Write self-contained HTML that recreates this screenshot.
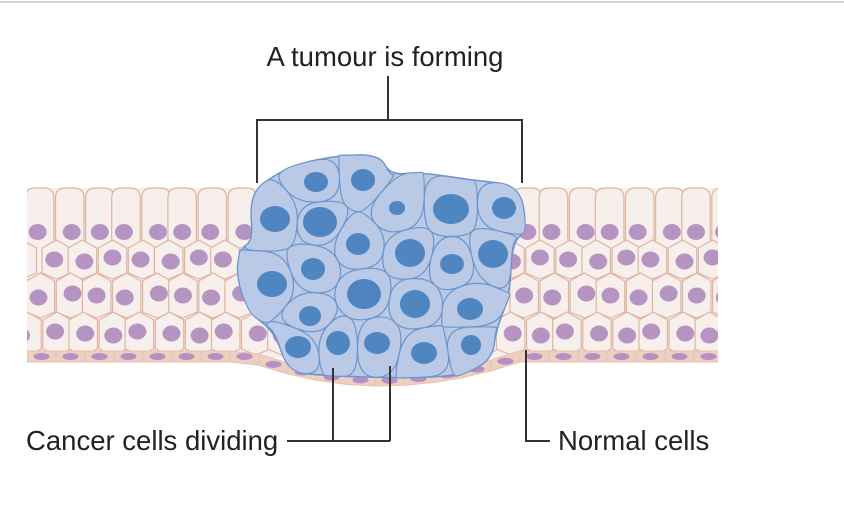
<!DOCTYPE html>
<html><head><meta charset="utf-8"><style>
html,body{margin:0;padding:0;background:#fff;width:844px;height:522px;overflow:hidden}
svg{display:block}
text{font-family:"Liberation Sans",Arial,sans-serif;fill:#222}
</style></head><body>
<svg id="s" width="844" height="522" viewBox="0 0 844 522" xmlns="http://www.w3.org/2000/svg">
<defs><clipPath id="cl"><rect x="27" y="150" width="691" height="260"/></clipPath></defs>
<rect x="0" y="1" width="844" height="2" fill="#d4d4d4"/>
<g id="tissue" clip-path="url(#cl)"></g>
<g id="tumour"></g>
<g stroke="#333" stroke-width="2" fill="none">
<path d="M388 76V120M257 183V120H522V183"/>
<path d="M287 441H390M333 368V441M390 366V441"/>
<path d="M526 350V441H550"/>
</g>
<text x="385" y="66" font-size="27.5" text-anchor="middle">A tumour is forming</text>
<text x="26" y="450" font-size="27.5">Cancer cells dividing</text>
<text x="558" y="450" font-size="27.5">Normal cells</text>
</svg>
<script>
var NS="http://www.w3.org/2000/svg";
function el(p,t,a){var e=document.createElementNS(NS,t);for(var k in a)e.setAttribute(k,a[k]);p.appendChild(e);return e;}
var T=document.getElementById('tissue');
function dip(x){
  if(x<250||x>520)return 0;
  var c=380,w=x<c?130:140;var d=(x-c)/w;return 24*Math.max(0,1-d*d);
}
var fill="#f7efec",st="#dfb5a0",nuc="#b594c1";
el(T,'rect',{x:20,y:188,width:710,height:170,fill:fill});
var rows=[[188,243],[243,276],[276,315],[315,352]];
var W=28.5;
for(var r=0;r<4;r++){
  var off=(r%2)?W/2:0;
  for(var i=-1;i<26;i++){
    var x=27+off+i*W+((i*7+r*3)%5-2)*0.8, y0=rows[r][0], y1=rows[r][1];
    var h=y1-y0;
    if(r==0){
      el(T,'path',{d:'M'+x+' '+(y1)+'V'+(y0+10)+'Q'+x+' '+y0+' '+(x+10)+' '+y0+'H'+(x+W-10)+'Q'+(x+W)+' '+y0+' '+(x+W)+' '+(y0+10)+'V'+y1,fill:fill,stroke:st,'stroke-width':1.2});
    } else {
      var m=5;
      el(T,'path',{d:'M'+x+' '+(y0+m)+'L'+(x+W/2)+' '+(y0-m+2)+'L'+(x+W)+' '+(y0+m)+'V'+(y1-m+2)+'L'+(x+W/2)+' '+(y1+m-2)+'L'+x+' '+(y1-m+2)+'Z',fill:fill,stroke:st,'stroke-width':1.2});
    }
    var ny=r==0?y0+h*0.8:(y0+y1)/2+((i+r)%3-1)*2;
    el(T,'ellipse',{cx:x+W/2+((i*5)%3-1)*2,cy:ny,rx:9,ry:8,fill:nuc});
  }
}
for(var i=0;i<25;i++){
  var x=27+i*29,xm=x+14.5;
  var d1=dip(x),d2=dip(x+29),dm=dip(xm);
  el(T,'path',{d:'M'+x+' '+(351+d1)+'L'+(x+29)+' '+(351+d2)+'L'+(x+29)+' '+(362+d2)+'L'+x+' '+(362+d1)+'Z',fill:"#ecd0c2",stroke:"#e5c2b1",'stroke-width':1});
  el(T,'ellipse',{cx:xm,cy:356.5+dm,rx:8,ry:3.5,fill:"#b98fc2"});
}
var U=document.getElementById('tumour');
var outline=[[258,186],[292,165],[340,155],[380,155],[390,175],[420,172],[470,180],[520,185],[527,230],[512,243],[510,295],[496,330],[492,360],[460,376],[400,378],[330,376],[288,372],[275,332],[248,312],[236,275],[240,250],[253,240],[250,205]];
var S=[[316,182,12,10],[363,180,12,11],[397,208,8,7],[451,209,18,15],[504,208,12,11],[275,219,15,13],[320,222,17,15],[358,244,12,11],[410,253,15,14],[452,264,12,10],[493,254,15,14],[313,269,12,11],[272,284,15,13],[364,294,17,15],[415,304,15,14],[470,309,13,11],[310,316,11,10],[298,347,13,11],[338,343,12,12],[377,343,13,11],[424,353,13,11],[471,345,10,10]];
function clip(poly,a,b,c){
  var out=[];for(var i=0;i<poly.length;i++){var P=poly[i],Q=poly[(i+1)%poly.length];
   var fp=a*P[0]+b*P[1]-c,fq=a*Q[0]+b*Q[1]-c;
   if(fp<=0)out.push(P);
   if((fp<0&&fq>0)||(fp>0&&fq<0)){var t=fp/(fp-fq);out.push([P[0]+t*(Q[0]-P[0]),P[1]+t*(Q[1]-P[1])]);}
  }return out;}
function smooth(p){
  var n=p.length,mid=function(a,b){return [(a[0]+b[0])/2,(a[1]+b[1])/2];};
  var m0=mid(p[n-1],p[0]),d='M'+m0[0].toFixed(1)+' '+m0[1].toFixed(1);
  for(var i=0;i<n;i++){var m=mid(p[i],p[(i+1)%n]);d+='Q'+p[i][0].toFixed(1)+' '+p[i][1].toFixed(1)+' '+m[0].toFixed(1)+' '+m[1].toFixed(1);}
  return d+'Z';}
el(U,'path',{d:smooth(outline),fill:"#b9c9e6",stroke:"#6b95cc",'stroke-width':1.5});
S.forEach(function(s,i){
  var poly=outline.slice();
  S.forEach(function(o,j){if(i==j)return;
    var a=o[0]-s[0],b=o[1]-s[1],c=(o[0]*o[0]+o[1]*o[1]-s[0]*s[0]-s[1]*s[1])/2;poly=clip(poly,a,b,c);});
  if(poly.length>2)el(U,'path',{d:smooth(poly),fill:"#b9c9e6",stroke:"#6b95cc",'stroke-width':1.2});
});
S.forEach(function(s){el(U,'ellipse',{cx:s[0],cy:s[1],rx:s[2],ry:s[3],fill:"#4f86c2"});});
</script>
</body></html>
